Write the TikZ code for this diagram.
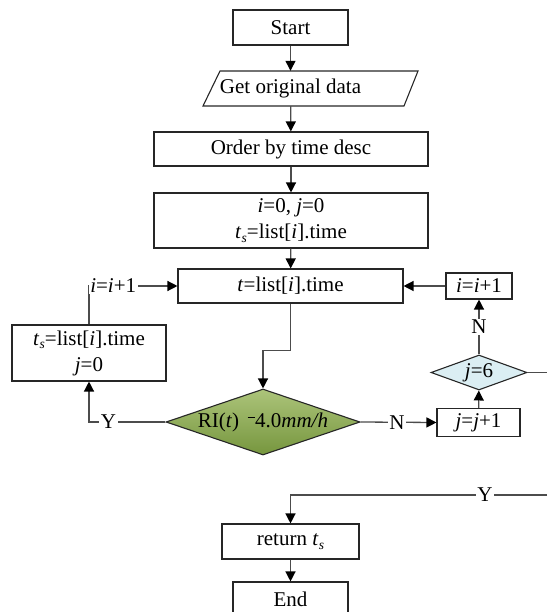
\documentclass[tikz,border=0pt]{standalone}
\usepackage{fontspec}
\setmainfont{Liberation Serif}
\usetikzlibrary{arrows.meta,shapes.geometric}
% italic t with a lowered italic s
\newcommand{\tsub}{\textit{t}\kern0.3pt\raisebox{-0.35ex}{\fontsize{13.5}{13.5}\selectfont\textit{s}}}
\newcommand{\geqdash}{\rule[0.45em]{7.5pt}{1pt}}

\begin{document}
\begin{tikzpicture}[x=1pt,y=-1pt,
  font=\fontsize{21}{26}\selectfont,
  outline/.style={draw=black!85,line width=1.1pt},
  box/.style={outline,rectangle,inner sep=0pt,align=center},
  flow/.style={draw=black!70,line width=1.3pt,-{Triangle[length=10pt,width=10pt,color=black]}},
  link/.style={draw=black!70,line width=1.3pt},
  yn/.style={fill=white,inner sep=1.5pt}]
\useasboundingbox (0,0) rectangle (547,612);
\clip (0,0) rectangle (547,612);

% main column
\node[box,minimum width=115pt,minimum height=35pt] (start) at (290.5,27.5) {Start};
\draw[outline] (203,106) -- (220,71) -- (418,71) -- (404,106) -- cycle;
\node[inner sep=0pt,minimum width=160pt,minimum height=35pt] (data) at (290.5,88.5) {Get original data};
\node[box,minimum width=274pt,minimum height=34pt] (order) at (291,149) {Order by time desc};
\node[box,minimum width=274pt,minimum height=55pt] (init) at (291,220.5)
  {\textit{i}=0, \textit{j}=0\\\tsub=list[\textit{i}].time};
\node[box,minimum width=225pt,minimum height=34pt] (tval) at (290.5,286) {\textit{t}=list[\textit{i}].time};
\node[box,minimum width=154pt,minimum height=56pt] (reset) at (89,353)
  {\tsub=list[\textit{i}].time\\\textit{j}=0};
\node[diamond,outline,inner sep=0pt,minimum width=194pt,minimum height=66pt,
  top color={rgb,255:red,172;green,196;blue,122},
  bottom color={rgb,255:red,118;green,150;blue,62}] (ri) at (263,422)
  {\makebox[0pt]{RI(\textit{t})\hspace{0.4em}\geqdash4.0\textit{mm/h}}};
\node[box,minimum width=83pt,minimum height=28pt] (jinc) at (478.5,422.5) {\textit{j}=\textit{j}+1};
\node[diamond,outline,inner sep=0pt,minimum width=96pt,minimum height=35pt,
  fill={rgb,255:red,219;green,238;blue,243}] (jsix) at (479,372.5) {\makebox[0pt]{\textit{j}=6}};
\node[box,minimum width=66pt,minimum height=26pt] (iinc) at (479,286) {\textit{i}=\textit{i}+1};
\node[box,minimum width=137pt,minimum height=35pt] (ret) at (290.5,541.5) {return \tsub};
\node[box,minimum width=115pt,minimum height=35pt] (stop) at (290.5,599.5) {End};

\coordinate (jout) at (547,372.5);
\coordinate (yin) at (547,495);

% connectors
\draw[flow] (start) -- (data);
\draw[flow] (data) -- (order);
\draw[flow] (order) -- (init);
\draw[flow] (init) -- (tval);
\draw[flow] (tval.south) -- ++(0,47) -| (ri.north);
\draw[flow] (ri.west) -| node[yn,pos=0.373]{Y} (reset.south);
\draw[flow] (reset.north) |- node[yn,pos=0.637]{\textit{i}=\textit{i}+1} (tval.west);
\draw[flow] (ri.east) -- node[yn,pos=0.48]{N} (jinc.west);
\draw[flow] (jinc) -- (jsix);
\draw[flow] (jsix) -- node[yn]{N} (iinc);
\draw[flow] (iinc.west) -- (tval.east);
\draw[link] (jsix.east) -- (jout);
\draw[flow] (yin) -| node[yn,pos=0.121]{Y} (ret.north);
\draw[flow] (ret) -- (stop);
\end{tikzpicture}
\end{document}
